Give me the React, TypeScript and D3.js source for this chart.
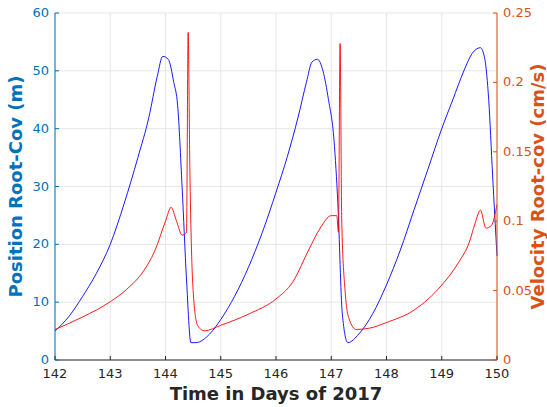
import React from 'react';
import * as d3 from 'd3';

const posDays = [142, 142.25, 142.5, 142.75, 143, 143.25, 143.5, 143.7, 143.85, 143.95, 144.05, 144.15, 144.22, 144.3, 144.38, 144.46, 144.55, 144.8, 145.0, 145.25, 145.5, 145.75, 146.0, 146.2, 146.4, 146.55, 146.65, 146.75, 146.85, 146.95, 147.05, 147.12, 147.2, 147.3, 147.5, 147.75, 148.0, 148.25, 148.5, 148.75, 149.0, 149.2, 149.4, 149.55, 149.7, 149.78, 149.85, 149.92, 150];
const posVals = [5, 7.5, 11, 15, 20, 27, 35, 42, 49, 52.5, 52, 48, 44, 30, 14, 3, 3, 4.5, 7, 11, 16, 22, 29, 35, 42, 48, 51.5, 52, 50, 45, 38, 27, 8, 3, 4.5, 8, 13, 19, 26, 33, 40, 45, 50, 53, 54, 52, 45, 32, 18];

const velDays = [142, 142.5, 143, 143.3, 143.6, 143.8, 144.0, 144.1, 144.2, 144.3, 144.38, 144.41, 144.44, 144.5, 144.58, 144.7, 145, 145.5, 146, 146.3, 146.6, 146.8, 147.0, 147.1, 147.13, 147.16, 147.19, 147.25, 147.32, 147.45, 147.7, 148, 148.5, 149, 149.3, 149.5, 149.6, 149.7, 149.8, 149.9, 150];
const velVals = [0.022, 0.031, 0.042, 0.051, 0.064, 0.078, 0.1, 0.11, 0.1, 0.09, 0.092, 0.236, 0.14, 0.05, 0.025, 0.021, 0.025, 0.033, 0.044, 0.056, 0.08, 0.095, 0.104, 0.104, 0.092, 0.228, 0.1, 0.05, 0.03, 0.022, 0.023, 0.027, 0.036, 0.054, 0.07, 0.085, 0.098, 0.108, 0.095, 0.097, 0.112];

const xTicks = [142, 143, 144, 145, 146, 147, 148, 149, 150];
const posTicks = [0, 10, 20, 30, 40, 50, 60];
const velTicks = [0, 0.05, 0.1, 0.15, 0.2, 0.25];

const W = 547, H = 407;
const m = { l: 55, r: 497, t: 13, b: 360 };
const BLUE = '#0072BD', ORANGE = '#D95319';
const font = 'DejaVu Sans, sans-serif';

export default function App() {
  const x = d3.scaleLinear().domain([142, 150]).range([m.l, m.r]);
  const yL = d3.scaleLinear().domain([0, 60]).range([m.b, m.t]);
  const yR = d3.scaleLinear().domain([0, 0.25]).range([m.b, m.t]);
  const posLine = d3.line<number>().x((_, i) => x(posDays[i])).y(d => yL(d)).curve(d3.curveMonotoneX);
  const velLine = d3.line<number>().x((_, i) => x(velDays[i])).y(d => yR(d)).curve(d3.curveMonotoneX);

  return (
    <svg width={W} height={H} style={{ position: 'absolute', left: 0, top: 0, background: '#fff' }} fontFamily={font}>
      {xTicks.map(t => <line key={'gx' + t} x1={x(t)} x2={x(t)} y1={m.t} y2={m.b} stroke="#e6e6e6" />)}
      {posTicks.map(t => <line key={'gy' + t} x1={m.l} x2={m.r} y1={yL(t)} y2={yL(t)} stroke="#e6e6e6" />)}
      <path d={posLine(posVals) || ''} fill="none" stroke="blue" strokeWidth={0.9} />
      <path d={velLine(velVals) || ''} fill="none" stroke="red" strokeWidth={0.9} />
      <line x1={m.l} x2={m.r} y1={m.b} y2={m.b} stroke="#262626" />
      <line x1={m.l} x2={m.l} y1={m.t} y2={m.b} stroke={BLUE} />
      <line x1={m.r} x2={m.r} y1={m.t} y2={m.b} stroke={ORANGE} />
      {xTicks.map(t => (
        <g key={'x' + t}>
          <line x1={x(t)} x2={x(t)} y1={m.b} y2={m.b - 4} stroke="#262626" />
          <text x={x(t)} y={m.b + 18} textAnchor="middle" fontSize={13} fill="#262626">{t}</text>
        </g>
      ))}
      {posTicks.map(t => (
        <g key={'l' + t}>
          <line x1={m.l} x2={m.l + 4} y1={yL(t)} y2={yL(t)} stroke={BLUE} />
          <text x={m.l - 6} y={yL(t) + 4} textAnchor="end" fontSize={13} fill={BLUE}>{t}</text>
        </g>
      ))}
      {velTicks.map(t => (
        <g key={'r' + t}>
          <line x1={m.r} x2={m.r - 4} y1={yR(t)} y2={yR(t)} stroke={ORANGE} />
          <text x={m.r + 6} y={yR(t) + 4} textAnchor="start" fontSize={13} fill={ORANGE}>{t}</text>
        </g>
      ))}
      <text x={(m.l + m.r) / 2} y={400} textAnchor="middle" fontSize={18} fontWeight="bold" fill="#262626">Time in Days of 2017</text>
      <text transform={`translate(22,${(m.t + m.b) / 2}) rotate(-90)`} textAnchor="middle" fontSize={18} fontWeight="bold" fill={BLUE}>Position Root-Cov (m)</text>
      <text transform={`translate(544,${(m.t + m.b) / 2}) rotate(-90)`} textAnchor="middle" fontSize={18} fontWeight="bold" fill={ORANGE}>Velocity Root-cov (cm/s)</text>
    </svg>
  );
}
